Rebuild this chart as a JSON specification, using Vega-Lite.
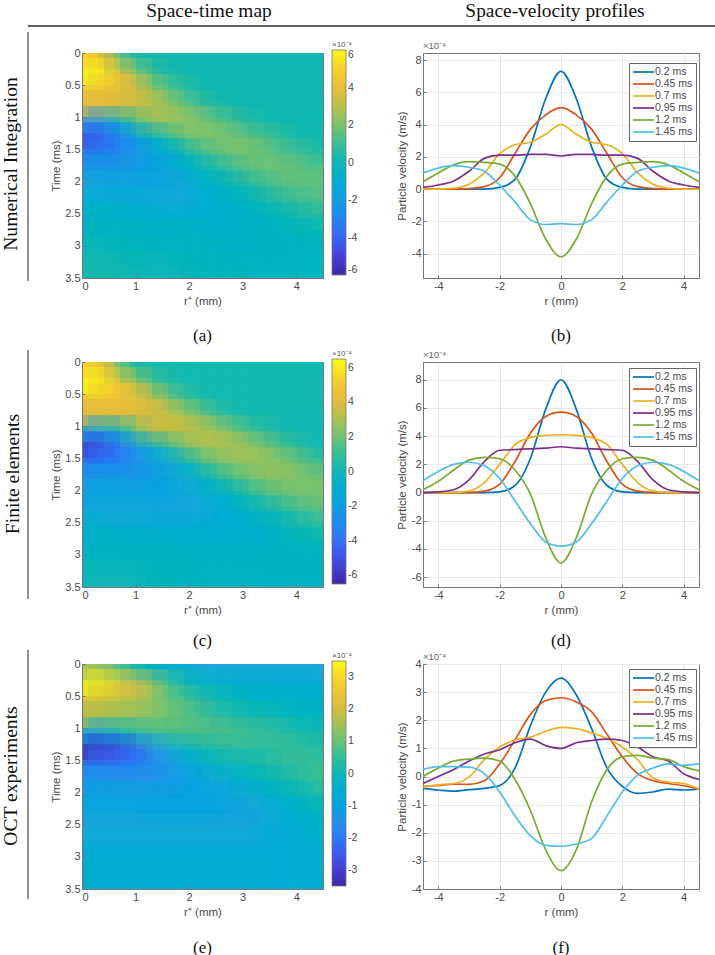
{"$schema":"https://vega.github.io/schema/vega-lite/v6.json","padding":0,"background":"white","spacing":0,
"config":{"view":{"stroke":null},"font":"Liberation Sans","axis":{"labelFont":"Liberation Sans","titleFont":"Liberation Sans","labelFontSize":11,"titleFontSize":11.5,"labelColor":"#4a4a4a","titleColor":"#4a4a4a","titleFontWeight":"normal","domainColor":"#777","tickColor":"#777","tickSize":-3,"labelPadding":5,"labelOverlap":false,"labelBound":false}},
"resolve":{"scale":{"x":"independent","y":"independent","color":"independent"}},
"datasets":{
"hdr":[{"x":209,"y":17,"label":"Space-time map","x0":28,"x1":715,"yr":26},{"x":555,"y":17,"label":"Space-velocity profiles","x0":28,"x1":715,"yr":26}],
"h1":[
{"x":0.15,"t":0.125,"c":5},{"x":0.45,"t":0.125,"c":3.5},{"x":0.75,"t":0.125,"c":1.5},{"x":1.05,"t":0.125,"c":0.4},{"x":1.35,"t":0.125,"c":0.2},{"x":1.65,"t":0.125,"c":0.2},{"x":1.95,"t":0.125,"c":0.2},{"x":2.25,"t":0.125,"c":0.2},{"x":2.55,"t":0.125,"c":0.2},{"x":2.85,"t":0.125,"c":0.2},{"x":3.15,"t":0.125,"c":0.2},{"x":3.45,"t":0.125,"c":0.2},{"x":3.75,"t":0.125,"c":0.2},{"x":4.05,"t":0.125,"c":0.2},{"x":4.35,"t":0.125,"c":0.2},
{"x":0.15,"t":0.375,"c":6},{"x":0.45,"t":0.375,"c":5.5},{"x":0.75,"t":0.375,"c":4.2},{"x":1.05,"t":0.375,"c":2.5},{"x":1.35,"t":0.375,"c":1.2},{"x":1.65,"t":0.375,"c":0.5},{"x":1.95,"t":0.375,"c":0.3},{"x":2.25,"t":0.375,"c":0.2},{"x":2.55,"t":0.375,"c":0.2},{"x":2.85,"t":0.375,"c":0.2},{"x":3.15,"t":0.375,"c":0.2},{"x":3.45,"t":0.375,"c":0.2},{"x":3.75,"t":0.375,"c":0.2},{"x":4.05,"t":0.375,"c":0.2},{"x":4.35,"t":0.375,"c":0.2},
{"x":0.15,"t":0.625,"c":4.2},{"x":0.45,"t":0.625,"c":4.1},{"x":0.75,"t":0.625,"c":3.9},{"x":1.05,"t":0.625,"c":3.4},{"x":1.35,"t":0.625,"c":2.5},{"x":1.65,"t":0.625,"c":1.5},{"x":1.95,"t":0.625,"c":0.8},{"x":2.25,"t":0.625,"c":0.4},{"x":2.55,"t":0.625,"c":0.2},{"x":2.85,"t":0.625,"c":0.2},{"x":3.15,"t":0.625,"c":0.2},{"x":3.45,"t":0.625,"c":0.2},{"x":3.75,"t":0.625,"c":0.2},{"x":4.05,"t":0.625,"c":0.2},{"x":4.35,"t":0.625,"c":0.2},
{"x":0.15,"t":0.875,"c":3.8},{"x":0.45,"t":0.875,"c":3.7},{"x":0.75,"t":0.875,"c":3.5},{"x":1.05,"t":0.875,"c":3.3},{"x":1.35,"t":0.875,"c":3},{"x":1.65,"t":0.875,"c":2.5},{"x":1.95,"t":0.875,"c":1.8},{"x":2.25,"t":0.875,"c":1.1},{"x":2.55,"t":0.875,"c":0.6},{"x":2.85,"t":0.875,"c":0.3},{"x":3.15,"t":0.875,"c":0.2},{"x":3.45,"t":0.875,"c":0.2},{"x":3.75,"t":0.875,"c":0.2},{"x":4.05,"t":0.875,"c":0.2},{"x":4.35,"t":0.875,"c":0.2},
{"x":0.15,"t":1.125,"c":-2.5},{"x":0.45,"t":1.125,"c":-2},{"x":0.75,"t":1.125,"c":-0.5},{"x":1.05,"t":1.125,"c":1.2},{"x":1.35,"t":1.125,"c":2.2},{"x":1.65,"t":1.125,"c":2.6},{"x":1.95,"t":1.125,"c":2.5},{"x":2.25,"t":1.125,"c":2.2},{"x":2.55,"t":1.125,"c":1.7},{"x":2.85,"t":1.125,"c":1.2},{"x":3.15,"t":1.125,"c":0.7},{"x":3.45,"t":1.125,"c":0.4},{"x":3.75,"t":1.125,"c":0.2},{"x":4.05,"t":1.125,"c":0.2},{"x":4.35,"t":1.125,"c":0.1},
{"x":0.15,"t":1.375,"c":-4.6},{"x":0.45,"t":1.375,"c":-4.2},{"x":0.75,"t":1.375,"c":-3.2},{"x":1.05,"t":1.375,"c":-1.8},{"x":1.35,"t":1.375,"c":-0.5},{"x":1.65,"t":1.375,"c":0.6},{"x":1.95,"t":1.375,"c":1.5},{"x":2.25,"t":1.375,"c":2},{"x":2.55,"t":1.375,"c":2.1},{"x":2.85,"t":1.375,"c":2},{"x":3.15,"t":1.375,"c":1.7},{"x":3.45,"t":1.375,"c":1.3},{"x":3.75,"t":1.375,"c":0.9},{"x":4.05,"t":1.375,"c":0.5},{"x":4.35,"t":1.375,"c":0.3},
{"x":0.15,"t":1.625,"c":-3},{"x":0.45,"t":1.625,"c":-3},{"x":0.75,"t":1.625,"c":-2.7},{"x":1.05,"t":1.625,"c":-2.3},{"x":1.35,"t":1.625,"c":-1.6},{"x":1.65,"t":1.625,"c":-0.9},{"x":1.95,"t":1.625,"c":-0.1},{"x":2.25,"t":1.625,"c":0.8},{"x":2.55,"t":1.625,"c":1.4},{"x":2.85,"t":1.625,"c":1.8},{"x":3.15,"t":1.625,"c":1.9},{"x":3.45,"t":1.625,"c":1.8},{"x":3.75,"t":1.625,"c":1.5},{"x":4.05,"t":1.625,"c":1.2},{"x":4.35,"t":1.625,"c":0.8},
{"x":0.15,"t":1.875,"c":-2},{"x":0.45,"t":1.875,"c":-2},{"x":0.75,"t":1.875,"c":-2},{"x":1.05,"t":1.875,"c":-1.9},{"x":1.35,"t":1.875,"c":-1.7},{"x":1.65,"t":1.875,"c":-1.4},{"x":1.95,"t":1.875,"c":-0.9},{"x":2.25,"t":1.875,"c":-0.3},{"x":2.55,"t":1.875,"c":0.3},{"x":2.85,"t":1.875,"c":0.9},{"x":3.15,"t":1.875,"c":1.4},{"x":3.45,"t":1.875,"c":1.7},{"x":3.75,"t":1.875,"c":1.8},{"x":4.05,"t":1.875,"c":1.7},{"x":4.35,"t":1.875,"c":1.5},
{"x":0.15,"t":2.125,"c":-1.3},{"x":0.45,"t":2.125,"c":-1.3},{"x":0.75,"t":2.125,"c":-1.4},{"x":1.05,"t":2.125,"c":-1.4},{"x":1.35,"t":2.125,"c":-1.4},{"x":1.65,"t":2.125,"c":-1.4},{"x":1.95,"t":2.125,"c":-1.2},{"x":2.25,"t":2.125,"c":-0.9},{"x":2.55,"t":2.125,"c":-0.5},{"x":2.85,"t":2.125,"c":-0.1},{"x":3.15,"t":2.125,"c":0.4},{"x":3.45,"t":2.125,"c":0.9},{"x":3.75,"t":2.125,"c":1.3},{"x":4.05,"t":2.125,"c":1.5},{"x":4.35,"t":2.125,"c":1.6},
{"x":0.15,"t":2.375,"c":-0.8},{"x":0.45,"t":2.375,"c":-0.8},{"x":0.75,"t":2.375,"c":-0.9},{"x":1.05,"t":2.375,"c":-1},{"x":1.35,"t":2.375,"c":-1.1},{"x":1.65,"t":2.375,"c":-1.1},{"x":1.95,"t":2.375,"c":-1.1},{"x":2.25,"t":2.375,"c":-1},{"x":2.55,"t":2.375,"c":-0.8},{"x":2.85,"t":2.375,"c":-0.6},{"x":3.15,"t":2.375,"c":-0.2},{"x":3.45,"t":2.375,"c":0.2},{"x":3.75,"t":2.375,"c":0.6},{"x":4.05,"t":2.375,"c":0.9},{"x":4.35,"t":2.375,"c":1.1},
{"x":0.15,"t":2.625,"c":-0.4},{"x":0.45,"t":2.625,"c":-0.5},{"x":0.75,"t":2.625,"c":-0.5},{"x":1.05,"t":2.625,"c":-0.6},{"x":1.35,"t":2.625,"c":-0.7},{"x":1.65,"t":2.625,"c":-0.7},{"x":1.95,"t":2.625,"c":-0.8},{"x":2.25,"t":2.625,"c":-0.8},{"x":2.55,"t":2.625,"c":-0.8},{"x":2.85,"t":2.625,"c":-0.7},{"x":3.15,"t":2.625,"c":-0.6},{"x":3.45,"t":2.625,"c":-0.4},{"x":3.75,"t":2.625,"c":-0.1},{"x":4.05,"t":2.625,"c":0.2},{"x":4.35,"t":2.625,"c":0.4},
{"x":0.15,"t":2.875,"c":-0.2},{"x":0.45,"t":2.875,"c":-0.2},{"x":0.75,"t":2.875,"c":-0.3},{"x":1.05,"t":2.875,"c":-0.3},{"x":1.35,"t":2.875,"c":-0.4},{"x":1.65,"t":2.875,"c":-0.4},{"x":1.95,"t":2.875,"c":-0.5},{"x":2.25,"t":2.875,"c":-0.5},{"x":2.55,"t":2.875,"c":-0.6},{"x":2.85,"t":2.875,"c":-0.6},{"x":3.15,"t":2.875,"c":-0.6},{"x":3.45,"t":2.875,"c":-0.5},{"x":3.75,"t":2.875,"c":-0.4},{"x":4.05,"t":2.875,"c":-0.2},{"x":4.35,"t":2.875,"c":-0.1},
{"x":0.15,"t":3.125,"c":0},{"x":0.45,"t":3.125,"c":0},{"x":0.75,"t":3.125,"c":-0.1},{"x":1.05,"t":3.125,"c":-0.1},{"x":1.35,"t":3.125,"c":-0.2},{"x":1.65,"t":3.125,"c":-0.2},{"x":1.95,"t":3.125,"c":-0.3},{"x":2.25,"t":3.125,"c":-0.3},{"x":2.55,"t":3.125,"c":-0.4},{"x":2.85,"t":3.125,"c":-0.4},{"x":3.15,"t":3.125,"c":-0.4},{"x":3.45,"t":3.125,"c":-0.4},{"x":3.75,"t":3.125,"c":-0.4},{"x":4.05,"t":3.125,"c":-0.3},{"x":4.35,"t":3.125,"c":-0.3},
{"x":0.15,"t":3.375,"c":0.3},{"x":0.45,"t":3.375,"c":0.3},{"x":0.75,"t":3.375,"c":0.2},{"x":1.05,"t":3.375,"c":0.1},{"x":1.35,"t":3.375,"c":0},{"x":1.65,"t":3.375,"c":0},{"x":1.95,"t":3.375,"c":-0.1},{"x":2.25,"t":3.375,"c":-0.1},{"x":2.55,"t":3.375,"c":-0.2},{"x":2.85,"t":3.375,"c":-0.2},{"x":3.15,"t":3.375,"c":-0.2},{"x":3.45,"t":3.375,"c":-0.3},{"x":3.75,"t":3.375,"c":-0.3},{"x":4.05,"t":3.375,"c":-0.3},{"x":4.35,"t":3.375,"c":-0.3}],
"h2":[
{"x":0.15,"t":0.125,"c":5.5},{"x":0.45,"t":0.125,"c":4},{"x":0.75,"t":0.125,"c":1.8},{"x":1.05,"t":0.125,"c":0.5},{"x":1.35,"t":0.125,"c":0.3},{"x":1.65,"t":0.125,"c":0.3},{"x":1.95,"t":0.125,"c":0.3},{"x":2.25,"t":0.125,"c":0.3},{"x":2.55,"t":0.125,"c":0.3},{"x":2.85,"t":0.125,"c":0.3},{"x":3.15,"t":0.125,"c":0.3},{"x":3.45,"t":0.125,"c":0.3},{"x":3.75,"t":0.125,"c":0.3},{"x":4.05,"t":0.125,"c":0.3},{"x":4.35,"t":0.125,"c":0.3},
{"x":0.15,"t":0.375,"c":6.5},{"x":0.45,"t":0.375,"c":6},{"x":0.75,"t":0.375,"c":4.8},{"x":1.05,"t":0.375,"c":3},{"x":1.35,"t":0.375,"c":1.5},{"x":1.65,"t":0.375,"c":0.7},{"x":1.95,"t":0.375,"c":0.4},{"x":2.25,"t":0.375,"c":0.3},{"x":2.55,"t":0.375,"c":0.3},{"x":2.85,"t":0.375,"c":0.3},{"x":3.15,"t":0.375,"c":0.3},{"x":3.45,"t":0.375,"c":0.3},{"x":3.75,"t":0.375,"c":0.3},{"x":4.05,"t":0.375,"c":0.3},{"x":4.35,"t":0.375,"c":0.3},
{"x":0.15,"t":0.625,"c":4.6},{"x":0.45,"t":0.625,"c":4.6},{"x":0.75,"t":0.625,"c":4.6},{"x":1.05,"t":0.625,"c":4.4},{"x":1.35,"t":0.625,"c":3.5},{"x":1.65,"t":0.625,"c":2.3},{"x":1.95,"t":0.625,"c":1.2},{"x":2.25,"t":0.625,"c":0.6},{"x":2.55,"t":0.625,"c":0.3},{"x":2.85,"t":0.625,"c":0.3},{"x":3.15,"t":0.625,"c":0.3},{"x":3.45,"t":0.625,"c":0.3},{"x":3.75,"t":0.625,"c":0.3},{"x":4.05,"t":0.625,"c":0.3},{"x":4.35,"t":0.625,"c":0.3},
{"x":0.15,"t":0.875,"c":3.9},{"x":0.45,"t":0.875,"c":3.9},{"x":0.75,"t":0.875,"c":3.9},{"x":1.05,"t":0.875,"c":3.9},{"x":1.35,"t":0.875,"c":3.8},{"x":1.65,"t":0.875,"c":3.6},{"x":1.95,"t":0.875,"c":3},{"x":2.25,"t":0.875,"c":2.1},{"x":2.55,"t":0.875,"c":1.2},{"x":2.85,"t":0.875,"c":0.6},{"x":3.15,"t":0.875,"c":0.3},{"x":3.45,"t":0.875,"c":0.3},{"x":3.75,"t":0.875,"c":0.3},{"x":4.05,"t":0.875,"c":0.2},{"x":4.35,"t":0.875,"c":0.2},
{"x":0.15,"t":1.125,"c":-2.2},{"x":0.45,"t":1.125,"c":-1.5},{"x":0.75,"t":1.125,"c":-0.2},{"x":1.05,"t":1.125,"c":1.8},{"x":1.35,"t":1.125,"c":3.2},{"x":1.65,"t":1.125,"c":3.4},{"x":1.95,"t":1.125,"c":3.4},{"x":2.25,"t":1.125,"c":3.3},{"x":2.55,"t":1.125,"c":2.9},{"x":2.85,"t":1.125,"c":2.2},{"x":3.15,"t":1.125,"c":1.4},{"x":3.45,"t":1.125,"c":0.8},{"x":3.75,"t":1.125,"c":0.4},{"x":4.05,"t":1.125,"c":0.2},{"x":4.35,"t":1.125,"c":0.2},
{"x":0.15,"t":1.375,"c":-5.5},{"x":0.45,"t":1.375,"c":-5},{"x":0.75,"t":1.375,"c":-3.8},{"x":1.05,"t":1.375,"c":-2.2},{"x":1.35,"t":1.375,"c":-0.7},{"x":1.65,"t":1.375,"c":0.8},{"x":1.95,"t":1.375,"c":2},{"x":2.25,"t":1.375,"c":2.8},{"x":2.55,"t":1.375,"c":3},{"x":2.85,"t":1.375,"c":3},{"x":3.15,"t":1.375,"c":2.8},{"x":3.45,"t":1.375,"c":2.2},{"x":3.75,"t":1.375,"c":1.5},{"x":4.05,"t":1.375,"c":0.9},{"x":4.35,"t":1.375,"c":0.4},
{"x":0.15,"t":1.625,"c":-3.4},{"x":0.45,"t":1.625,"c":-3.4},{"x":0.75,"t":1.625,"c":-3.2},{"x":1.05,"t":1.625,"c":-2.8},{"x":1.35,"t":1.625,"c":-2.2},{"x":1.65,"t":1.625,"c":-1.4},{"x":1.95,"t":1.625,"c":-0.3},{"x":2.25,"t":1.625,"c":0.9},{"x":2.55,"t":1.625,"c":1.9},{"x":2.85,"t":1.625,"c":2.4},{"x":3.15,"t":1.625,"c":2.6},{"x":3.45,"t":1.625,"c":2.6},{"x":3.75,"t":1.625,"c":2.5},{"x":4.05,"t":1.625,"c":2},{"x":4.35,"t":1.625,"c":1.4},
{"x":0.15,"t":1.875,"c":-2.2},{"x":0.45,"t":1.875,"c":-2.2},{"x":0.75,"t":1.875,"c":-2.2},{"x":1.05,"t":1.875,"c":-2.2},{"x":1.35,"t":1.875,"c":-2},{"x":1.65,"t":1.875,"c":-1.8},{"x":1.95,"t":1.875,"c":-1.3},{"x":2.25,"t":1.875,"c":-0.6},{"x":2.55,"t":1.875,"c":0.2},{"x":2.85,"t":1.875,"c":1.1},{"x":3.15,"t":1.875,"c":1.8},{"x":3.45,"t":1.875,"c":2.3},{"x":3.75,"t":1.875,"c":2.4},{"x":4.05,"t":1.875,"c":2.4},{"x":4.35,"t":1.875,"c":2.1},
{"x":0.15,"t":2.125,"c":-1.7},{"x":0.45,"t":2.125,"c":-1.7},{"x":0.75,"t":2.125,"c":-1.7},{"x":1.05,"t":2.125,"c":-1.7},{"x":1.35,"t":2.125,"c":-1.7},{"x":1.65,"t":2.125,"c":-1.7},{"x":1.95,"t":2.125,"c":-1.5},{"x":2.25,"t":2.125,"c":-1.2},{"x":2.55,"t":2.125,"c":-0.8},{"x":2.85,"t":2.125,"c":-0.2},{"x":3.15,"t":2.125,"c":0.5},{"x":3.45,"t":2.125,"c":1.1},{"x":3.75,"t":2.125,"c":1.6},{"x":4.05,"t":2.125,"c":2},{"x":4.35,"t":2.125,"c":2.1},
{"x":0.15,"t":2.375,"c":-1.2},{"x":0.45,"t":2.375,"c":-1.3},{"x":0.75,"t":2.375,"c":-1.3},{"x":1.05,"t":2.375,"c":-1.3},{"x":1.35,"t":2.375,"c":-1.4},{"x":1.65,"t":2.375,"c":-1.4},{"x":1.95,"t":2.375,"c":-1.4},{"x":2.25,"t":2.375,"c":-1.3},{"x":2.55,"t":2.375,"c":-1.1},{"x":2.85,"t":2.375,"c":-0.9},{"x":3.15,"t":2.375,"c":-0.5},{"x":3.45,"t":2.375,"c":0},{"x":3.75,"t":2.375,"c":0.5},{"x":4.05,"t":2.375,"c":1},{"x":4.35,"t":2.375,"c":1.4},
{"x":0.15,"t":2.625,"c":-0.8},{"x":0.45,"t":2.625,"c":-0.8},{"x":0.75,"t":2.625,"c":-0.9},{"x":1.05,"t":2.625,"c":-0.9},{"x":1.35,"t":2.625,"c":-0.9},{"x":1.65,"t":2.625,"c":-1},{"x":1.95,"t":2.625,"c":-1},{"x":2.25,"t":2.625,"c":-1},{"x":2.55,"t":2.625,"c":-1},{"x":2.85,"t":2.625,"c":-0.9},{"x":3.15,"t":2.625,"c":-0.8},{"x":3.45,"t":2.625,"c":-0.6},{"x":3.75,"t":2.625,"c":-0.3},{"x":4.05,"t":2.625,"c":0.1},{"x":4.35,"t":2.625,"c":0.5},
{"x":0.15,"t":2.875,"c":-0.5},{"x":0.45,"t":2.875,"c":-0.5},{"x":0.75,"t":2.875,"c":-0.5},{"x":1.05,"t":2.875,"c":-0.6},{"x":1.35,"t":2.875,"c":-0.6},{"x":1.65,"t":2.875,"c":-0.6},{"x":1.95,"t":2.875,"c":-0.7},{"x":2.25,"t":2.875,"c":-0.7},{"x":2.55,"t":2.875,"c":-0.7},{"x":2.85,"t":2.875,"c":-0.7},{"x":3.15,"t":2.875,"c":-0.7},{"x":3.45,"t":2.875,"c":-0.6},{"x":3.75,"t":2.875,"c":-0.5},{"x":4.05,"t":2.875,"c":-0.3},{"x":4.35,"t":2.875,"c":-0.2},
{"x":0.15,"t":3.125,"c":-0.3},{"x":0.45,"t":3.125,"c":-0.3},{"x":0.75,"t":3.125,"c":-0.3},{"x":1.05,"t":3.125,"c":-0.3},{"x":1.35,"t":3.125,"c":-0.4},{"x":1.65,"t":3.125,"c":-0.4},{"x":1.95,"t":3.125,"c":-0.4},{"x":2.25,"t":3.125,"c":-0.5},{"x":2.55,"t":3.125,"c":-0.5},{"x":2.85,"t":3.125,"c":-0.5},{"x":3.15,"t":3.125,"c":-0.5},{"x":3.45,"t":3.125,"c":-0.5},{"x":3.75,"t":3.125,"c":-0.5},{"x":4.05,"t":3.125,"c":-0.5},{"x":4.35,"t":3.125,"c":-0.4},
{"x":0.15,"t":3.375,"c":0},{"x":0.45,"t":3.375,"c":0},{"x":0.75,"t":3.375,"c":0},{"x":1.05,"t":3.375,"c":0},{"x":1.35,"t":3.375,"c":-0.1},{"x":1.65,"t":3.375,"c":-0.1},{"x":1.95,"t":3.375,"c":-0.2},{"x":2.25,"t":3.375,"c":-0.2},{"x":2.55,"t":3.375,"c":-0.3},{"x":2.85,"t":3.375,"c":-0.3},{"x":3.15,"t":3.375,"c":-0.3},{"x":3.45,"t":3.375,"c":-0.4},{"x":3.75,"t":3.375,"c":-0.4},{"x":4.05,"t":3.375,"c":-0.4},{"x":4.35,"t":3.375,"c":-0.4}],
"h3":[
{"x":0.15,"t":0.125,"c":1.6},{"x":0.45,"t":0.125,"c":1.3},{"x":0.75,"t":0.125,"c":0.8},{"x":1.05,"t":0.125,"c":0.2},{"x":1.35,"t":0.125,"c":-0.2},{"x":1.65,"t":0.125,"c":-0.4},{"x":1.95,"t":0.125,"c":-0.6},{"x":2.25,"t":0.125,"c":-0.7},{"x":2.55,"t":0.125,"c":-0.7},{"x":2.85,"t":0.125,"c":-0.7},{"x":3.15,"t":0.125,"c":-0.7},{"x":3.45,"t":0.125,"c":-0.7},{"x":3.75,"t":0.125,"c":-0.7},{"x":4.05,"t":0.125,"c":-0.7},{"x":4.35,"t":0.125,"c":-0.7},
{"x":0.15,"t":0.375,"c":3.4},{"x":0.45,"t":0.375,"c":3.2},{"x":0.75,"t":0.375,"c":2.8},{"x":1.05,"t":0.375,"c":2.3},{"x":1.35,"t":0.375,"c":1.5},{"x":1.65,"t":0.375,"c":0.8},{"x":1.95,"t":0.375,"c":0.2},{"x":2.25,"t":0.375,"c":-0.1},{"x":2.55,"t":0.375,"c":-0.3},{"x":2.85,"t":0.375,"c":-0.4},{"x":3.15,"t":0.375,"c":-0.5},{"x":3.45,"t":0.375,"c":-0.5},{"x":3.75,"t":0.375,"c":-0.5},{"x":4.05,"t":0.375,"c":-0.5},{"x":4.35,"t":0.375,"c":-0.5},
{"x":0.15,"t":0.625,"c":1.9},{"x":0.45,"t":0.625,"c":1.8},{"x":0.75,"t":0.625,"c":1.7},{"x":1.05,"t":0.625,"c":1.6},{"x":1.35,"t":0.625,"c":1.3},{"x":1.65,"t":0.625,"c":1},{"x":1.95,"t":0.625,"c":0.8},{"x":2.25,"t":0.625,"c":0.5},{"x":2.55,"t":0.625,"c":0.2},{"x":2.85,"t":0.625,"c":0},{"x":3.15,"t":0.625,"c":-0.1},{"x":3.45,"t":0.625,"c":-0.2},{"x":3.75,"t":0.625,"c":-0.2},{"x":4.05,"t":0.625,"c":-0.3},{"x":4.35,"t":0.625,"c":-0.3},
{"x":0.15,"t":0.875,"c":1.7},{"x":0.45,"t":0.875,"c":1.6},{"x":0.75,"t":0.875,"c":1.5},{"x":1.05,"t":0.875,"c":1.4},{"x":1.35,"t":0.875,"c":1.3},{"x":1.65,"t":0.875,"c":1.1},{"x":1.95,"t":0.875,"c":0.9},{"x":2.25,"t":0.875,"c":0.7},{"x":2.55,"t":0.875,"c":0.5},{"x":2.85,"t":0.875,"c":0.3},{"x":3.15,"t":0.875,"c":0.2},{"x":3.45,"t":0.875,"c":0.1},{"x":3.75,"t":0.875,"c":0},{"x":4.05,"t":0.875,"c":-0.1},{"x":4.35,"t":0.875,"c":-0.1},
{"x":0.15,"t":1.125,"c":-1},{"x":0.45,"t":1.125,"c":-0.8},{"x":0.75,"t":1.125,"c":-0.2},{"x":1.05,"t":1.125,"c":0.3},{"x":1.35,"t":1.125,"c":0.5},{"x":1.65,"t":1.125,"c":0.7},{"x":1.95,"t":1.125,"c":0.8},{"x":2.25,"t":1.125,"c":0.8},{"x":2.55,"t":1.125,"c":0.8},{"x":2.85,"t":1.125,"c":0.8},{"x":3.15,"t":1.125,"c":0.7},{"x":3.45,"t":1.125,"c":0.6},{"x":3.75,"t":1.125,"c":0.5},{"x":4.05,"t":1.125,"c":0.3},{"x":4.35,"t":1.125,"c":0.2},
{"x":0.15,"t":1.375,"c":-3.2},{"x":0.45,"t":1.375,"c":-3.1},{"x":0.75,"t":1.375,"c":-2.8},{"x":1.05,"t":1.375,"c":-2.3},{"x":1.35,"t":1.375,"c":-1.4},{"x":1.65,"t":1.375,"c":-0.7},{"x":1.95,"t":1.375,"c":-0.2},{"x":2.25,"t":1.375,"c":0.1},{"x":2.55,"t":1.375,"c":0.3},{"x":2.85,"t":1.375,"c":0.4},{"x":3.15,"t":1.375,"c":0.4},{"x":3.45,"t":1.375,"c":0.4},{"x":3.75,"t":1.375,"c":0.5},{"x":4.05,"t":1.375,"c":0.5},{"x":4.35,"t":1.375,"c":0.4},
{"x":0.15,"t":1.625,"c":-1.9},{"x":0.45,"t":1.625,"c":-1.9},{"x":0.75,"t":1.625,"c":-1.9},{"x":1.05,"t":1.625,"c":-1.8},{"x":1.35,"t":1.625,"c":-1.6},{"x":1.65,"t":1.625,"c":-1.3},{"x":1.95,"t":1.625,"c":-0.8},{"x":2.25,"t":1.625,"c":-0.5},{"x":2.55,"t":1.625,"c":-0.2},{"x":2.85,"t":1.625,"c":0},{"x":3.15,"t":1.625,"c":0.1},{"x":3.45,"t":1.625,"c":0.3},{"x":3.75,"t":1.625,"c":0.4},{"x":4.05,"t":1.625,"c":0.5},{"x":4.35,"t":1.625,"c":0.6},
{"x":0.15,"t":1.875,"c":-1.2},{"x":0.45,"t":1.875,"c":-1.2},{"x":0.75,"t":1.875,"c":-1.3},{"x":1.05,"t":1.875,"c":-1.3},{"x":1.35,"t":1.875,"c":-1.3},{"x":1.65,"t":1.875,"c":-1.2},{"x":1.95,"t":1.875,"c":-1.1},{"x":2.25,"t":1.875,"c":-0.9},{"x":2.55,"t":1.875,"c":-0.7},{"x":2.85,"t":1.875,"c":-0.5},{"x":3.15,"t":1.875,"c":-0.3},{"x":3.45,"t":1.875,"c":-0.1},{"x":3.75,"t":1.875,"c":0.1},{"x":4.05,"t":1.875,"c":0.3},{"x":4.35,"t":1.875,"c":0.5},
{"x":0.15,"t":2.125,"c":-1},{"x":0.45,"t":2.125,"c":-1},{"x":0.75,"t":2.125,"c":-1},{"x":1.05,"t":2.125,"c":-1},{"x":1.35,"t":2.125,"c":-1},{"x":1.65,"t":2.125,"c":-1},{"x":1.95,"t":2.125,"c":-1},{"x":2.25,"t":2.125,"c":-1},{"x":2.55,"t":2.125,"c":-0.9},{"x":2.85,"t":2.125,"c":-0.8},{"x":3.15,"t":2.125,"c":-0.7},{"x":3.45,"t":2.125,"c":-0.5},{"x":3.75,"t":2.125,"c":-0.3},{"x":4.05,"t":2.125,"c":-0.1},{"x":4.35,"t":2.125,"c":0.1},
{"x":0.15,"t":2.375,"c":-0.8},{"x":0.45,"t":2.375,"c":-0.8},{"x":0.75,"t":2.375,"c":-0.8},{"x":1.05,"t":2.375,"c":-0.8},{"x":1.35,"t":2.375,"c":-0.9},{"x":1.65,"t":2.375,"c":-0.9},{"x":1.95,"t":2.375,"c":-0.9},{"x":2.25,"t":2.375,"c":-0.9},{"x":2.55,"t":2.375,"c":-0.9},{"x":2.85,"t":2.375,"c":-0.8},{"x":3.15,"t":2.375,"c":-0.8},{"x":3.45,"t":2.375,"c":-0.7},{"x":3.75,"t":2.375,"c":-0.6},{"x":4.05,"t":2.375,"c":-0.4},{"x":4.35,"t":2.375,"c":-0.2},
{"x":0.15,"t":2.625,"c":-0.7},{"x":0.45,"t":2.625,"c":-0.7},{"x":0.75,"t":2.625,"c":-0.7},{"x":1.05,"t":2.625,"c":-0.7},{"x":1.35,"t":2.625,"c":-0.7},{"x":1.65,"t":2.625,"c":-0.7},{"x":1.95,"t":2.625,"c":-0.7},{"x":2.25,"t":2.625,"c":-0.7},{"x":2.55,"t":2.625,"c":-0.7},{"x":2.85,"t":2.625,"c":-0.7},{"x":3.15,"t":2.625,"c":-0.7},{"x":3.45,"t":2.625,"c":-0.6},{"x":3.75,"t":2.625,"c":-0.6},{"x":4.05,"t":2.625,"c":-0.5},{"x":4.35,"t":2.625,"c":-0.4},
{"x":0.15,"t":2.875,"c":-0.6},{"x":0.45,"t":2.875,"c":-0.6},{"x":0.75,"t":2.875,"c":-0.6},{"x":1.05,"t":2.875,"c":-0.6},{"x":1.35,"t":2.875,"c":-0.6},{"x":1.65,"t":2.875,"c":-0.6},{"x":1.95,"t":2.875,"c":-0.6},{"x":2.25,"t":2.875,"c":-0.6},{"x":2.55,"t":2.875,"c":-0.6},{"x":2.85,"t":2.875,"c":-0.6},{"x":3.15,"t":2.875,"c":-0.6},{"x":3.45,"t":2.875,"c":-0.6},{"x":3.75,"t":2.875,"c":-0.6},{"x":4.05,"t":2.875,"c":-0.5},{"x":4.35,"t":2.875,"c":-0.5},
{"x":0.15,"t":3.125,"c":-0.5},{"x":0.45,"t":3.125,"c":-0.5},{"x":0.75,"t":3.125,"c":-0.5},{"x":1.05,"t":3.125,"c":-0.5},{"x":1.35,"t":3.125,"c":-0.5},{"x":1.65,"t":3.125,"c":-0.5},{"x":1.95,"t":3.125,"c":-0.5},{"x":2.25,"t":3.125,"c":-0.5},{"x":2.55,"t":3.125,"c":-0.5},{"x":2.85,"t":3.125,"c":-0.5},{"x":3.15,"t":3.125,"c":-0.5},{"x":3.45,"t":3.125,"c":-0.5},{"x":3.75,"t":3.125,"c":-0.6},{"x":4.05,"t":3.125,"c":-0.5},{"x":4.35,"t":3.125,"c":-0.5},
{"x":0.15,"t":3.375,"c":-0.5},{"x":0.45,"t":3.375,"c":-0.5},{"x":0.75,"t":3.375,"c":-0.5},{"x":1.05,"t":3.375,"c":-0.5},{"x":1.35,"t":3.375,"c":-0.5},{"x":1.65,"t":3.375,"c":-0.5},{"x":1.95,"t":3.375,"c":-0.5},{"x":2.25,"t":3.375,"c":-0.5},{"x":2.55,"t":3.375,"c":-0.5},{"x":2.85,"t":3.375,"c":-0.5},{"x":3.15,"t":3.375,"c":-0.5},{"x":3.45,"t":3.375,"c":-0.5},{"x":3.75,"t":3.375,"c":-0.6},{"x":4.05,"t":3.375,"c":-0.5},{"x":4.35,"t":3.375,"c":-0.5}],
"l1":[
{"r":-4.5,"t":0.2,"v":0},{"r":-4,"t":0.2,"v":0},{"r":-3.5,"t":0.2,"v":0},{"r":-3,"t":0.2,"v":0},{"r":-2.5,"t":0.2,"v":0},{"r":-2,"t":0.2,"v":0.1},{"r":-1.5,"t":0.2,"v":0.6},{"r":-1,"t":0.2,"v":2.6},{"r":-0.5,"t":0.2,"v":5.6},{"r":0,"t":0.2,"v":7.3},{"r":0.5,"t":0.2,"v":5.6},{"r":1,"t":0.2,"v":2.6},{"r":1.5,"t":0.2,"v":0.6},{"r":2,"t":0.2,"v":0.1},{"r":2.5,"t":0.2,"v":0},{"r":3,"t":0.2,"v":0},{"r":3.5,"t":0.2,"v":0},{"r":4,"t":0.2,"v":0},{"r":4.5,"t":0.2,"v":0},
{"r":-4.5,"t":0.45,"v":0},{"r":-4,"t":0.45,"v":0},{"r":-3.5,"t":0.45,"v":0},{"r":-3,"t":0.45,"v":0.03},{"r":-2.5,"t":0.45,"v":0.15},{"r":-2,"t":0.45,"v":0.7},{"r":-1.5,"t":0.45,"v":2.2},{"r":-1,"t":0.45,"v":3.7},{"r":-0.5,"t":0.45,"v":4.6},{"r":0,"t":0.45,"v":5.05},{"r":0.5,"t":0.45,"v":4.6},{"r":1,"t":0.45,"v":3.7},{"r":1.5,"t":0.45,"v":2.2},{"r":2,"t":0.45,"v":0.7},{"r":2.5,"t":0.45,"v":0.15},{"r":3,"t":0.45,"v":0.03},{"r":3.5,"t":0.45,"v":0},{"r":4,"t":0.45,"v":0},{"r":4.5,"t":0.45,"v":0},
{"r":-4.5,"t":0.7,"v":0},{"r":-4,"t":0.7,"v":0},{"r":-3.5,"t":0.7,"v":0.05},{"r":-3,"t":0.7,"v":0.3},{"r":-2.5,"t":0.7,"v":1},{"r":-2,"t":0.7,"v":2.2},{"r":-1.5,"t":0.7,"v":2.75},{"r":-1,"t":0.7,"v":2.9},{"r":-0.5,"t":0.7,"v":3.4},{"r":0,"t":0.7,"v":4},{"r":0.5,"t":0.7,"v":3.4},{"r":1,"t":0.7,"v":2.9},{"r":1.5,"t":0.7,"v":2.75},{"r":2,"t":0.7,"v":2.2},{"r":2.5,"t":0.7,"v":1},{"r":3,"t":0.7,"v":0.3},{"r":3.5,"t":0.7,"v":0.05},{"r":4,"t":0.7,"v":0},{"r":4.5,"t":0.7,"v":0},
{"r":-4.5,"t":0.95,"v":0.1},{"r":-4,"t":0.95,"v":0.25},{"r":-3.5,"t":0.95,"v":0.5},{"r":-3,"t":0.95,"v":1.1},{"r":-2.5,"t":0.95,"v":1.9},{"r":-2,"t":0.95,"v":2.1},{"r":-1.5,"t":0.95,"v":2.1},{"r":-1,"t":0.95,"v":2.15},{"r":-0.5,"t":0.95,"v":2.15},{"r":0,"t":0.95,"v":2.05},{"r":0.5,"t":0.95,"v":2.15},{"r":1,"t":0.95,"v":2.15},{"r":1.5,"t":0.95,"v":2.1},{"r":2,"t":0.95,"v":2.1},{"r":2.5,"t":0.95,"v":1.9},{"r":3,"t":0.95,"v":1.1},{"r":3.5,"t":0.95,"v":0.5},{"r":4,"t":0.95,"v":0.25},{"r":4.5,"t":0.95,"v":0.1},
{"r":-4.5,"t":1.2,"v":0.45},{"r":-4,"t":1.2,"v":1},{"r":-3.5,"t":1.2,"v":1.5},{"r":-3,"t":1.2,"v":1.7},{"r":-2.5,"t":1.2,"v":1.65},{"r":-2,"t":1.2,"v":1.55},{"r":-1.5,"t":1.2,"v":0.8},{"r":-1,"t":1.2,"v":-0.9},{"r":-0.5,"t":1.2,"v":-3.1},{"r":0,"t":1.2,"v":-4.2},{"r":0.5,"t":1.2,"v":-3.1},{"r":1,"t":1.2,"v":-0.9},{"r":1.5,"t":1.2,"v":0.8},{"r":2,"t":1.2,"v":1.55},{"r":2.5,"t":1.2,"v":1.65},{"r":3,"t":1.2,"v":1.7},{"r":3.5,"t":1.2,"v":1.5},{"r":4,"t":1.2,"v":1},{"r":4.5,"t":1.2,"v":0.45},
{"r":-4.5,"t":1.45,"v":1},{"r":-4,"t":1.45,"v":1.3},{"r":-3.5,"t":1.45,"v":1.45},{"r":-3,"t":1.45,"v":1.35},{"r":-2.5,"t":1.45,"v":1.1},{"r":-2,"t":1.45,"v":0.25},{"r":-1.5,"t":1.45,"v":-0.8},{"r":-1,"t":1.45,"v":-1.9},{"r":-0.5,"t":1.45,"v":-2.2},{"r":0,"t":1.45,"v":-2.15},{"r":0.5,"t":1.45,"v":-2.2},{"r":1,"t":1.45,"v":-1.9},{"r":1.5,"t":1.45,"v":-0.8},{"r":2,"t":1.45,"v":0.25},{"r":2.5,"t":1.45,"v":1.1},{"r":3,"t":1.45,"v":1.35},{"r":3.5,"t":1.45,"v":1.45},{"r":4,"t":1.45,"v":1.3},{"r":4.5,"t":1.45,"v":1}],
"l2":[
{"r":-4.5,"t":0.2,"v":0},{"r":-4,"t":0.2,"v":0},{"r":-3.5,"t":0.2,"v":0},{"r":-3,"t":0.2,"v":0},{"r":-2.5,"t":0.2,"v":0},{"r":-2,"t":0.2,"v":0.05},{"r":-1.5,"t":0.2,"v":0.5},{"r":-1,"t":0.2,"v":2.4},{"r":-0.5,"t":0.2,"v":5.9},{"r":0,"t":0.2,"v":8},{"r":0.5,"t":0.2,"v":5.9},{"r":1,"t":0.2,"v":2.4},{"r":1.5,"t":0.2,"v":0.5},{"r":2,"t":0.2,"v":0.05},{"r":2.5,"t":0.2,"v":0},{"r":3,"t":0.2,"v":0},{"r":3.5,"t":0.2,"v":0},{"r":4,"t":0.2,"v":0},{"r":4.5,"t":0.2,"v":0},
{"r":-4.5,"t":0.45,"v":0},{"r":-4,"t":0.45,"v":0},{"r":-3.5,"t":0.45,"v":0},{"r":-3,"t":0.45,"v":0},{"r":-2.5,"t":0.45,"v":0.1},{"r":-2,"t":0.45,"v":0.6},{"r":-1.5,"t":0.45,"v":2.2},{"r":-1,"t":0.45,"v":4.2},{"r":-0.5,"t":0.45,"v":5.4},{"r":0,"t":0.45,"v":5.7},{"r":0.5,"t":0.45,"v":5.4},{"r":1,"t":0.45,"v":4.2},{"r":1.5,"t":0.45,"v":2.2},{"r":2,"t":0.45,"v":0.6},{"r":2.5,"t":0.45,"v":0.1},{"r":3,"t":0.45,"v":0},{"r":3.5,"t":0.45,"v":0},{"r":4,"t":0.45,"v":0},{"r":4.5,"t":0.45,"v":0},
{"r":-4.5,"t":0.7,"v":0},{"r":-4,"t":0.7,"v":0},{"r":-3.5,"t":0.7,"v":0},{"r":-3,"t":0.7,"v":0.1},{"r":-2.5,"t":0.7,"v":0.7},{"r":-2,"t":0.7,"v":2},{"r":-1.5,"t":0.7,"v":3.4},{"r":-1,"t":0.7,"v":3.9},{"r":-0.5,"t":0.7,"v":4.05},{"r":0,"t":0.7,"v":4.1},{"r":0.5,"t":0.7,"v":4.05},{"r":1,"t":0.7,"v":3.9},{"r":1.5,"t":0.7,"v":3.4},{"r":2,"t":0.7,"v":2},{"r":2.5,"t":0.7,"v":0.7},{"r":3,"t":0.7,"v":0.1},{"r":3.5,"t":0.7,"v":0},{"r":4,"t":0.7,"v":0},{"r":4.5,"t":0.7,"v":0},
{"r":-4.5,"t":0.95,"v":0},{"r":-4,"t":0.95,"v":0.05},{"r":-3.5,"t":0.95,"v":0.2},{"r":-3,"t":0.95,"v":0.9},{"r":-2.5,"t":0.95,"v":2.2},{"r":-2,"t":0.95,"v":3},{"r":-1.5,"t":0.95,"v":3.05},{"r":-1,"t":0.95,"v":3.1},{"r":-0.5,"t":0.95,"v":3.15},{"r":0,"t":0.95,"v":3.25},{"r":0.5,"t":0.95,"v":3.15},{"r":1,"t":0.95,"v":3.1},{"r":1.5,"t":0.95,"v":3.05},{"r":2,"t":0.95,"v":3},{"r":2.5,"t":0.95,"v":2.2},{"r":3,"t":0.95,"v":0.9},{"r":3.5,"t":0.95,"v":0.2},{"r":4,"t":0.95,"v":0.05},{"r":4.5,"t":0.95,"v":0},
{"r":-4.5,"t":1.2,"v":0.2},{"r":-4,"t":1.2,"v":0.8},{"r":-3.5,"t":1.2,"v":1.6},{"r":-3,"t":1.2,"v":2.3},{"r":-2.5,"t":1.2,"v":2.5},{"r":-2,"t":1.2,"v":2.4},{"r":-1.5,"t":1.2,"v":1.6},{"r":-1,"t":1.2,"v":-0.1},{"r":-0.5,"t":1.2,"v":-3.2},{"r":0,"t":1.2,"v":-5},{"r":0.5,"t":1.2,"v":-3.2},{"r":1,"t":1.2,"v":-0.1},{"r":1.5,"t":1.2,"v":1.6},{"r":2,"t":1.2,"v":2.4},{"r":2.5,"t":1.2,"v":2.5},{"r":3,"t":1.2,"v":2.3},{"r":3.5,"t":1.2,"v":1.6},{"r":4,"t":1.2,"v":0.8},{"r":4.5,"t":1.2,"v":0.2},
{"r":-4.5,"t":1.45,"v":0.85},{"r":-4,"t":1.45,"v":1.5},{"r":-3.5,"t":1.45,"v":2},{"r":-3,"t":1.45,"v":2.15},{"r":-2.5,"t":1.45,"v":1.9},{"r":-2,"t":1.45,"v":1},{"r":-1.5,"t":1.45,"v":-0.6},{"r":-1,"t":1.45,"v":-2.2},{"r":-0.5,"t":1.45,"v":-3.5},{"r":0,"t":1.45,"v":-3.8},{"r":0.5,"t":1.45,"v":-3.5},{"r":1,"t":1.45,"v":-2.2},{"r":1.5,"t":1.45,"v":-0.6},{"r":2,"t":1.45,"v":1},{"r":2.5,"t":1.45,"v":1.9},{"r":3,"t":1.45,"v":2.15},{"r":3.5,"t":1.45,"v":2},{"r":4,"t":1.45,"v":1.5},{"r":4.5,"t":1.45,"v":0.85}],
"l3":[
{"r":-4.5,"t":0.2,"v":-0.42},{"r":-4,"t":0.2,"v":-0.48},{"r":-3.5,"t":0.2,"v":-0.52},{"r":-3,"t":0.2,"v":-0.47},{"r":-2.5,"t":0.2,"v":-0.42},{"r":-2,"t":0.2,"v":-0.32},{"r":-1.5,"t":0.2,"v":0.3},{"r":-1,"t":0.2,"v":1.8},{"r":-0.5,"t":0.2,"v":3},{"r":0,"t":0.2,"v":3.5},{"r":0.5,"t":0.2,"v":2.9},{"r":1,"t":0.2,"v":1.7},{"r":1.5,"t":0.2,"v":0.3},{"r":2,"t":0.2,"v":-0.35},{"r":2.5,"t":0.2,"v":-0.6},{"r":3,"t":0.2,"v":-0.55},{"r":3.5,"t":0.2,"v":-0.45},{"r":4,"t":0.2,"v":-0.48},{"r":4.5,"t":0.2,"v":-0.45},
{"r":-4.5,"t":0.45,"v":-0.35},{"r":-4,"t":0.45,"v":-0.32},{"r":-3.5,"t":0.45,"v":-0.27},{"r":-3,"t":0.45,"v":-0.28},{"r":-2.5,"t":0.45,"v":-0.15},{"r":-2,"t":0.45,"v":0.45},{"r":-1.5,"t":0.45,"v":1.3},{"r":-1,"t":0.45,"v":2.2},{"r":-0.5,"t":0.45,"v":2.7},{"r":0,"t":0.45,"v":2.8},{"r":0.5,"t":0.45,"v":2.65},{"r":1,"t":0.45,"v":2.3},{"r":1.5,"t":0.45,"v":1.5},{"r":2,"t":0.45,"v":0.7},{"r":2.5,"t":0.45,"v":0.1},{"r":3,"t":0.45,"v":-0.15},{"r":3.5,"t":0.45,"v":-0.25},{"r":4,"t":0.45,"v":-0.33},{"r":4.5,"t":0.45,"v":-0.45},
{"r":-4.5,"t":0.7,"v":-0.38},{"r":-4,"t":0.7,"v":-0.3},{"r":-3.5,"t":0.7,"v":-0.25},{"r":-3,"t":0.7,"v":-0.02},{"r":-2.5,"t":0.7,"v":0.6},{"r":-2,"t":0.7,"v":1.05},{"r":-1.5,"t":0.7,"v":1.3},{"r":-1,"t":0.7,"v":1.4},{"r":-0.5,"t":0.7,"v":1.6},{"r":0,"t":0.7,"v":1.75},{"r":0.5,"t":0.7,"v":1.7},{"r":1,"t":0.7,"v":1.55},{"r":1.5,"t":0.7,"v":1.35},{"r":2,"t":0.7,"v":1.05},{"r":2.5,"t":0.7,"v":0.6},{"r":3,"t":0.7,"v":-0.05},{"r":3.5,"t":0.7,"v":-0.2},{"r":4,"t":0.7,"v":-0.25},{"r":4.5,"t":0.7,"v":-0.45},
{"r":-4.5,"t":0.95,"v":-0.25},{"r":-4,"t":0.95,"v":0},{"r":-3.5,"t":0.95,"v":0.25},{"r":-3,"t":0.95,"v":0.55},{"r":-2.5,"t":0.95,"v":0.8},{"r":-2,"t":0.95,"v":0.95},{"r":-1.5,"t":0.95,"v":1.2},{"r":-1,"t":0.95,"v":1.33},{"r":-0.5,"t":0.95,"v":1.1},{"r":0,"t":0.95,"v":1},{"r":0.5,"t":0.95,"v":1.2},{"r":1,"t":0.95,"v":1.28},{"r":1.5,"t":0.95,"v":1.33},{"r":2,"t":0.95,"v":1.28},{"r":2.5,"t":0.95,"v":1.05},{"r":3,"t":0.95,"v":0.7},{"r":3.5,"t":0.95,"v":0.55},{"r":4,"t":0.95,"v":0.1},{"r":4.5,"t":0.95,"v":-0.1},
{"r":-4.5,"t":1.2,"v":0},{"r":-4,"t":1.2,"v":0.3},{"r":-3.5,"t":1.2,"v":0.55},{"r":-3,"t":1.2,"v":0.62},{"r":-2.5,"t":1.2,"v":0.65},{"r":-2,"t":1.2,"v":0.55},{"r":-1.5,"t":1.2,"v":-0.1},{"r":-1,"t":1.2,"v":-1.2},{"r":-0.5,"t":1.2,"v":-2.6},{"r":0,"t":1.2,"v":-3.35},{"r":0.5,"t":1.2,"v":-2.6},{"r":1,"t":1.2,"v":-0.9},{"r":1.5,"t":1.2,"v":0.25},{"r":2,"t":1.2,"v":0.7},{"r":2.5,"t":1.2,"v":0.75},{"r":3,"t":1.2,"v":0.65},{"r":3.5,"t":1.2,"v":0.6},{"r":4,"t":1.2,"v":0.35},{"r":4.5,"t":1.2,"v":0.2},
{"r":-4.5,"t":1.45,"v":0.25},{"r":-4,"t":1.45,"v":0.35},{"r":-3.5,"t":1.45,"v":0.35},{"r":-3,"t":1.45,"v":0.33},{"r":-2.5,"t":1.45,"v":0.1},{"r":-2,"t":1.45,"v":-0.55},{"r":-1.5,"t":1.45,"v":-1.4},{"r":-1,"t":1.45,"v":-2.1},{"r":-0.5,"t":1.45,"v":-2.45},{"r":0,"t":1.45,"v":-2.48},{"r":0.5,"t":1.45,"v":-2.4},{"r":1,"t":1.45,"v":-2.2},{"r":1.5,"t":1.45,"v":-1.4},{"r":2,"t":1.45,"v":-0.55},{"r":2.5,"t":1.45,"v":0.05},{"r":3,"t":1.45,"v":0.3},{"r":3.5,"t":1.45,"v":0.45},{"r":4,"t":1.45,"v":0.4},{"r":4.5,"t":1.45,"v":0.45}]
},
"vconcat":[
{"width":715,"height":31,"data":{"name":"hdr"},"layer":[
{"mark":{"type":"text","font":"Liberation Serif","fontSize":19.4,"color":"#111","baseline":"alphabetic"},"encoding":{"x":{"field":"x","type":"quantitative","scale":{"domain":[0,715],"nice":false},"axis":null},"y":{"field":"y","type":"quantitative","scale":{"domain":[0,31],"reverse":true,"nice":false},"axis":null},"text":{"field":"label"}}},
{"mark":{"type":"rule","color":"#555","strokeWidth":1.3},"encoding":{"x":{"field":"x0","type":"quantitative"},"x2":{"field":"x1"},"y":{"field":"yr","type":"quantitative"}}}
]},
{"hconcat":[
{"width":28,"height":225,"data":{"values":[{"x":11,"y":111,"label":"Numerical Integration","xr":28,"y0":-21,"y1":228}]},"layer":[
{"mark":{"type":"text","font":"Liberation Serif","fontSize":19.6,"color":"#111","angle":270,"baseline":"middle"},"encoding":{"x":{"field":"x","type":"quantitative","scale":{"domain":[0,28],"nice":false},"axis":null},"y":{"field":"y","type":"quantitative","scale":{"domain":[0,225],"reverse":true,"nice":false},"axis":null},"text":{"field":"label"}}},
{"mark":{"type":"rule","color":"#555","strokeWidth":1.3},"encoding":{"x":{"field":"xr","type":"quantitative"},"y":{"field":"y0","type":"quantitative"},"y2":{"field":"y1"}}}
]},
{"width":21,"height":225,"data":{"values":[]},"mark":{"type":"rule"},"encoding":{}},
{"width":241,"height":225,"data":{"name":"h1"},"view":{"stroke":"#777"},"title":{"text":"(a)","orient":"bottom","font":"Liberation Serif","fontSize":17,"fontWeight":"normal","color":"#111","offset":21,"anchor":"middle"},
"encoding":{"x":{"field":"x","type":"quantitative","scale":{"domain":[0,4.5],"nice":false},"axis":{"values":[0,1,2,3,4],"title":"r⁺ (mm)","format":"~g","grid":false,"zindex":1}},"y":{"field":"t","type":"quantitative","scale":{"domain":[0,3.5],"reverse":true,"nice":false},"axis":{"values":[0,0.5,1,1.5,2,2.5,3,3.5],"format":"~g","title":"Time (ms)","grid":false,"titlePadding":3,"zindex":1}},"color":{"field":"c","type":"quantitative","scale":{"domain":[-6,6],"range":["#3E26A8","#4646E6","#3574F8","#2A93E8","#1AAAD8","#0DB6B8","#45BF8E","#96C25E","#E0B93E","#F8C82F","#F9FB15"]},"legend":{"orient":"none","legendX":250,"legendY":-12,"title":"×10⁻⁴","titleFontSize":8,"titleFontWeight":"normal","titleColor":"#555","titlePadding":1,"gradientLength":225,"gradientThickness":14,"gradientOpacity":1,"values":[-6,-4,-2,0,2,4,6],"labelExpr":"replace(datum.label,'−','-')","labelFontSize":10.5,"labelColor":"#4a4a4a","gradientStrokeColor":"#777","gradientStrokeWidth":0.8,"labelOffset":2,"padding":0}}},
"layer":[{"mark":{"type":"rect","width":16.6,"height":16.6,"clip":true}},{"mark":{"type":"rect","width":32,"height":32,"clip":true,"opacity":0.28,"xOffset":-2,"yOffset":-3}}]},
{"width":36,"height":225,"data":{"values":[]},"mark":{"type":"rule"},"encoding":{}},
{"width":276,"height":225,"data":{"name":"l1"},"view":{"stroke":"#777"},"title":{"text":"(b)","orient":"bottom","font":"Liberation Serif","fontSize":17,"fontWeight":"normal","color":"#111","offset":21,"anchor":"middle"},
"layer":[{"mark":{"type":"line","strokeWidth":1.7,"interpolate":"monotone","clip":true},"encoding":{"x":{"field":"r","type":"quantitative","scale":{"domain":[-4.5,4.5],"nice":false},"axis":{"values":[-4,-2,0,2,4],"format":"~g","labelExpr":"replace(datum.label,'−','-')","labelOverlap":false,"title":"r (mm)","grid":true,"gridColor":"#e8e8e8"}},"y":{"field":"v","type":"quantitative","scale":{"domain":[-5.52,8.44],"nice":false},"axis":{"values":[-4,-2,0,2,4,6,8],"format":"~g","labelExpr":"replace(datum.label,'−','-')","labelOverlap":false,"title":"Particle velocity (m/s)","grid":true,"gridColor":"#e8e8e8","titlePadding":4}},"color":{"field":"t","type":"nominal","scale":{"domain":[0.2,0.45,0.7,0.95,1.2,1.45],"range":["#0072BD","#D95319","#EDB120","#7E2F8E","#77AC30","#4DBEEE"]},"legend":{"orient":"none","legendX":206,"legendY":10,"title":null,"labelExpr":"datum.label+' ms'","fillColor":"white","strokeColor":"#666","padding":3,"symbolType":"M-1,0H3.2","symbolSize":100,"symbolStrokeWidth":1.7,"labelFontSize":10.5,"labelColor":"#4a4a4a","labelOffset":11,"rowPadding":0}}}},
{"data":{"values":[{"r":-4.5,"v":8.44,"label":"×10⁻⁴"}]},"mark":{"type":"text","fontSize":9.5,"color":"#666","align":"left","baseline":"bottom","dy":-2},"encoding":{"x":{"field":"r","type":"quantitative","axis":{"values":[-4,-2,0,2,4],"format":"~g","labelExpr":"replace(datum.label,'−','-')","labelOverlap":false,"title":"r (mm)","grid":true,"gridColor":"#e8e8e8"}},"y":{"field":"v","type":"quantitative","axis":{"values":[-4,-2,0,2,4,6,8],"format":"~g","labelExpr":"replace(datum.label,'−','-')","labelOverlap":false,"title":"Particle velocity (m/s)","grid":true,"gridColor":"#e8e8e8","titlePadding":4}},"text":{"field":"label"}}}],"resolve":{"scale":{"color":"independent"}}}
],"spacing":0,"resolve":{"scale":{"x":"independent","y":"independent","color":"independent"}}},
{"width":1,"height":5,"data":{"values":[]},"mark":{"type":"rule"},"encoding":{}},
{"hconcat":[
{"width":28,"height":225,"data":{"values":[{"x":13,"y":112,"label":"Finite elements","xr":28,"y0":-12,"y1":237}]},"layer":[
{"mark":{"type":"text","font":"Liberation Serif","fontSize":19.6,"color":"#111","angle":270,"baseline":"middle"},"encoding":{"x":{"field":"x","type":"quantitative","scale":{"domain":[0,28],"nice":false},"axis":null},"y":{"field":"y","type":"quantitative","scale":{"domain":[0,225],"reverse":true,"nice":false},"axis":null},"text":{"field":"label"}}},
{"mark":{"type":"rule","color":"#555","strokeWidth":1.3},"encoding":{"x":{"field":"xr","type":"quantitative"},"y":{"field":"y0","type":"quantitative"},"y2":{"field":"y1"}}}
]},
{"width":21,"height":225,"data":{"values":[]},"mark":{"type":"rule"},"encoding":{}},
{"width":241,"height":225,"data":{"name":"h2"},"view":{"stroke":"#777"},"title":{"text":"(c)","orient":"bottom","font":"Liberation Serif","fontSize":17,"fontWeight":"normal","color":"#111","offset":17,"anchor":"middle"},
"encoding":{"x":{"field":"x","type":"quantitative","scale":{"domain":[0,4.5],"nice":false},"axis":{"values":[0,1,2,3,4],"title":"r⁺ (mm)","format":"~g","grid":false,"zindex":1}},"y":{"field":"t","type":"quantitative","scale":{"domain":[0,3.5],"reverse":true,"nice":false},"axis":{"values":[0,0.5,1,1.5,2,2.5,3,3.5],"format":"~g","title":"Time (ms)","grid":false,"titlePadding":3,"zindex":1}},"color":{"field":"c","type":"quantitative","scale":{"domain":[-6.5,6.5],"range":["#3E26A8","#4646E6","#3574F8","#2A93E8","#1AAAD8","#0DB6B8","#45BF8E","#96C25E","#E0B93E","#F8C82F","#F9FB15"]},"legend":{"orient":"none","legendX":250,"legendY":-12,"title":"×10⁻⁴","titleFontSize":8,"titleFontWeight":"normal","titleColor":"#555","titlePadding":1,"gradientLength":225,"gradientThickness":14,"gradientOpacity":1,"values":[-6,-4,-2,0,2,4,6],"labelExpr":"replace(datum.label,'−','-')","labelFontSize":10.5,"labelColor":"#4a4a4a","gradientStrokeColor":"#777","gradientStrokeWidth":0.8,"labelOffset":2,"padding":0}}},
"layer":[{"mark":{"type":"rect","width":16.6,"height":16.6,"clip":true}},{"mark":{"type":"rect","width":32,"height":32,"clip":true,"opacity":0.28,"xOffset":-2,"yOffset":-3}}]},
{"width":36,"height":225,"data":{"values":[]},"mark":{"type":"rule"},"encoding":{}},
{"width":276,"height":225,"data":{"name":"l2"},"view":{"stroke":"#777"},"title":{"text":"(d)","orient":"bottom","font":"Liberation Serif","fontSize":17,"fontWeight":"normal","color":"#111","offset":17,"anchor":"middle"},
"layer":[{"mark":{"type":"line","strokeWidth":1.7,"interpolate":"monotone","clip":true},"encoding":{"x":{"field":"r","type":"quantitative","scale":{"domain":[-4.5,4.5],"nice":false},"axis":{"values":[-4,-2,0,2,4],"format":"~g","labelExpr":"replace(datum.label,'−','-')","labelOverlap":false,"title":"r (mm)","grid":true,"gridColor":"#e8e8e8"}},"y":{"field":"v","type":"quantitative","scale":{"domain":[-6.7,9.26],"nice":false},"axis":{"values":[-6,-4,-2,0,2,4,6,8],"format":"~g","labelExpr":"replace(datum.label,'−','-')","labelOverlap":false,"title":"Particle velocity (m/s)","grid":true,"gridColor":"#e8e8e8","titlePadding":4}},"color":{"field":"t","type":"nominal","scale":{"domain":[0.2,0.45,0.7,0.95,1.2,1.45],"range":["#0072BD","#D95319","#EDB120","#7E2F8E","#77AC30","#4DBEEE"]},"legend":{"orient":"none","legendX":206,"legendY":6,"title":null,"labelExpr":"datum.label+' ms'","fillColor":"white","strokeColor":"#666","padding":3,"symbolType":"M-1,0H3.2","symbolSize":100,"symbolStrokeWidth":1.7,"labelFontSize":10.5,"labelColor":"#4a4a4a","labelOffset":11,"rowPadding":0}}}},
{"data":{"values":[{"r":-4.5,"v":9.26,"label":"×10⁻⁴"}]},"mark":{"type":"text","fontSize":9.5,"color":"#666","align":"left","baseline":"bottom","dy":-2},"encoding":{"x":{"field":"r","type":"quantitative","axis":{"values":[-4,-2,0,2,4],"format":"~g","labelExpr":"replace(datum.label,'−','-')","labelOverlap":false,"title":"r (mm)","grid":true,"gridColor":"#e8e8e8"}},"y":{"field":"v","type":"quantitative","axis":{"values":[-6,-4,-2,0,2,4,6,8],"format":"~g","labelExpr":"replace(datum.label,'−','-')","labelOverlap":false,"title":"Particle velocity (m/s)","grid":true,"gridColor":"#e8e8e8","titlePadding":4}},"text":{"field":"label"}}}],"resolve":{"scale":{"color":"independent"}}}
],"spacing":0,"resolve":{"scale":{"x":"independent","y":"independent","color":"independent"}}},
{"hconcat":[
{"width":28,"height":225,"data":{"values":[{"x":11,"y":112,"label":"OCT experiments","xr":28,"y0":-14,"y1":235}]},"layer":[
{"mark":{"type":"text","font":"Liberation Serif","fontSize":19.6,"color":"#111","angle":270,"baseline":"middle"},"encoding":{"x":{"field":"x","type":"quantitative","scale":{"domain":[0,28],"nice":false},"axis":null},"y":{"field":"y","type":"quantitative","scale":{"domain":[0,225],"reverse":true,"nice":false},"axis":null},"text":{"field":"label"}}},
{"mark":{"type":"rule","color":"#555","strokeWidth":1.3},"encoding":{"x":{"field":"xr","type":"quantitative"},"y":{"field":"y0","type":"quantitative"},"y2":{"field":"y1"}}}
]},
{"width":21,"height":225,"data":{"values":[]},"mark":{"type":"rule"},"encoding":{}},
{"width":241,"height":225,"data":{"name":"h3"},"view":{"stroke":"#777"},"title":{"text":"(e)","orient":"bottom","font":"Liberation Serif","fontSize":17,"fontWeight":"normal","color":"#111","offset":22,"anchor":"middle"},
"encoding":{"x":{"field":"x","type":"quantitative","scale":{"domain":[0,4.5],"nice":false},"axis":{"values":[0,1,2,3,4],"title":"r⁺ (mm)","format":"~g","grid":false,"zindex":1}},"y":{"field":"t","type":"quantitative","scale":{"domain":[0,3.5],"reverse":true,"nice":false},"axis":{"values":[0,0.5,1,1.5,2,2.5,3,3.5],"format":"~g","title":"Time (ms)","grid":false,"titlePadding":3,"zindex":1}},"color":{"field":"c","type":"quantitative","scale":{"domain":[-3.5,3.5],"range":["#3E26A8","#4646E6","#3574F8","#2A93E8","#1AAAD8","#0DB6B8","#45BF8E","#96C25E","#E0B93E","#F8C82F","#F9FB15"]},"legend":{"orient":"none","legendX":250,"legendY":-12,"title":"×10⁻⁴","titleFontSize":8,"titleFontWeight":"normal","titleColor":"#555","titlePadding":1,"gradientLength":225,"gradientThickness":14,"gradientOpacity":1,"values":[-3,-2,-1,0,1,2,3],"labelExpr":"replace(datum.label,'−','-')","labelFontSize":10.5,"labelColor":"#4a4a4a","gradientStrokeColor":"#777","gradientStrokeWidth":0.8,"labelOffset":2,"padding":0}}},
"layer":[{"mark":{"type":"rect","width":16.6,"height":16.6,"clip":true}},{"mark":{"type":"rect","width":32,"height":32,"clip":true,"opacity":0.28,"xOffset":-2,"yOffset":-3}}]},
{"width":36,"height":225,"data":{"values":[]},"mark":{"type":"rule"},"encoding":{}},
{"width":276,"height":225,"data":{"name":"l3"},"view":{"stroke":"#777"},"title":{"text":"(f)","orient":"bottom","font":"Liberation Serif","fontSize":17,"fontWeight":"normal","color":"#111","offset":22,"anchor":"middle"},
"layer":[{"mark":{"type":"line","strokeWidth":1.7,"interpolate":"monotone","clip":true},"encoding":{"x":{"field":"r","type":"quantitative","scale":{"domain":[-4.5,4.5],"nice":false},"axis":{"values":[-4,-2,0,2,4],"format":"~g","labelExpr":"replace(datum.label,'−','-')","labelOverlap":false,"title":"r (mm)","grid":true,"gridColor":"#e8e8e8"}},"y":{"field":"v","type":"quantitative","scale":{"domain":[-4,4],"nice":false},"axis":{"values":[-4,-3,-2,-1,0,1,2,3,4],"format":"~g","labelExpr":"replace(datum.label,'−','-')","labelOverlap":false,"title":"Particle velocity (m/s)","grid":true,"gridColor":"#e8e8e8","titlePadding":4}},"color":{"field":"t","type":"nominal","scale":{"domain":[0.2,0.45,0.7,0.95,1.2,1.45],"range":["#0072BD","#D95319","#EDB120","#7E2F8E","#77AC30","#4DBEEE"]},"legend":{"orient":"none","legendX":206,"legendY":5,"title":null,"labelExpr":"datum.label+' ms'","fillColor":"white","strokeColor":"#666","padding":3,"symbolType":"M-1,0H3.2","symbolSize":100,"symbolStrokeWidth":1.7,"labelFontSize":10.5,"labelColor":"#4a4a4a","labelOffset":11,"rowPadding":0}}}},
{"data":{"values":[{"r":-4.5,"v":4,"label":"×10⁻⁴"}]},"mark":{"type":"text","fontSize":9.5,"color":"#666","align":"left","baseline":"bottom","dy":-2},"encoding":{"x":{"field":"r","type":"quantitative","axis":{"values":[-4,-2,0,2,4],"format":"~g","labelExpr":"replace(datum.label,'−','-')","labelOverlap":false,"title":"r (mm)","grid":true,"gridColor":"#e8e8e8"}},"y":{"field":"v","type":"quantitative","axis":{"values":[-4,-3,-2,-1,0,1,2,3,4],"format":"~g","labelExpr":"replace(datum.label,'−','-')","labelOverlap":false,"title":"Particle velocity (m/s)","grid":true,"gridColor":"#e8e8e8","titlePadding":4}},"text":{"field":"label"}}}],"resolve":{"scale":{"color":"independent"}}}
],"spacing":0,"resolve":{"scale":{"x":"independent","y":"independent","color":"independent"}}}
]}
